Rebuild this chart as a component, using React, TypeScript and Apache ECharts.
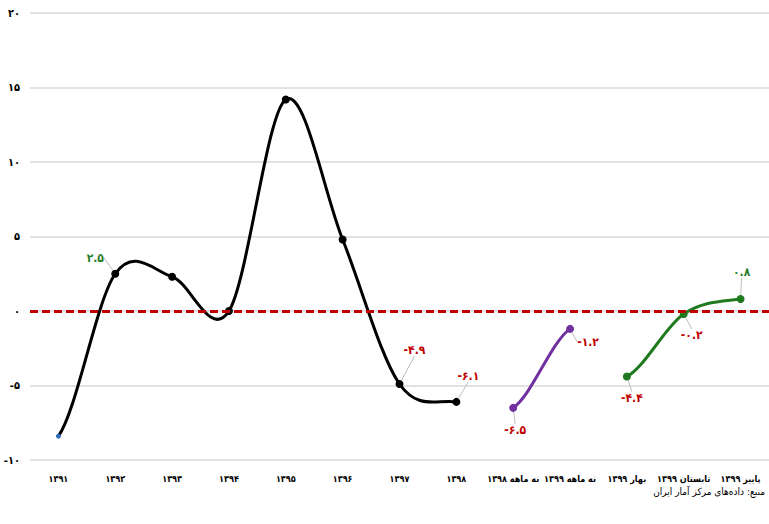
import React, { useEffect, useRef } from 'react';
import * as echarts from 'echarts';

// Period labels along the horizontal axis
const categories = [
  '۱۳۹۱', '۱۳۹۲', '۱۳۹۳', '۱۳۹۴', '۱۳۹۵', '۱۳۹۶', '۱۳۹۷', '۱۳۹۸',
  'نه ماهه ۱۳۹۸', 'نه ماهه ۱۳۹۹', 'بهار ۱۳۹۹', 'تابستان ۱۳۹۹', 'پاییز ۱۳۹۹',
];

// Growth rates (percent)
const annualGrowth = [-8.4, 2.5, 2.3, 0, 14.2, 4.8, -4.9, -6.1];
const nineMonthGrowth = [-6.5, -1.2];
const seasonalGrowth = [-4.4, -0.2, 0.8];

const Y_MIN = -10;
const Y_MAX = 20;
const Y_STEP = 5;

const sourceNote = 'منبع: داده‌های مرکز آمار ایران';

// Offsets of value labels (by category index) from their points
const labelOffsets: Record<number, [number, number]> = {
  1: [-20, -16],
  6: [15, -34],
  7: [12, -26],
  8: [2, 22],
  9: [18, 13],
  10: [5, 21],
  11: [8, 21],
  12: [1, -27],
};

const FONT = "'DejaVu Sans Condensed', 'DejaVu Sans', sans-serif";
const POS_COLOR = '#2b7d2b';
const NEG_COLOR = '#c00000';

const toFa = (s: string) => s.replace(/\d/g, (d) => '۰۱۲۳۴۵۶۷۸۹'[+d]);

function markerData(values: number[], start: number, firstColor?: string) {
  const out: any[] = categories.map(() => null);
  values.forEach((v, i) => {
    const idx = start + i;
    const item: any = {
      value: v,
      label: {
        show: labelOffsets[idx] !== undefined,
        color: v >= 0 ? POS_COLOR : NEG_COLOR,
      },
    };
    if (i === 0 && firstColor) {
      item.itemStyle = { color: firstColor };
      item.symbolSize = 5;
    }
    out[idx] = item;
  });
  return out;
}

// Points with their markers and value labels (the curve itself is drawn separately)
function markerSeries(values: number[], start: number, color: string, firstColor?: string) {
  return {
    type: 'line',
    symbol: 'circle',
    symbolSize: 8,
    lineStyle: { width: 0, opacity: 0 },
    itemStyle: { color },
    z: 4,
    data: markerData(values, start, firstColor),
    label: {
      show: false,
      position: 'inside',
      fontFamily: FONT,
      fontWeight: 'bold',
      fontSize: 12,
      formatter: (p: any) => toFa(String(p.value)),
    },
    labelLine: { show: true, lineStyle: { color: '#bdbdbd', width: 1 } },
    labelLayout: (p: any) => {
      const off = labelOffsets[p.dataIndex];
      return off ? { dx: off[0], dy: off[1] } : {};
    },
  };
}

// Smooth curve through the points: cubic Bezier segments with 1/6 tangents,
// flattened end tangents
function curveSeries(values: number[], start: number, color: string) {
  const pts = values.map((v, i) => [start + i, v]);
  return {
    type: 'custom',
    z: 3,
    silent: true,
    encode: { x: 0, y: 1 },
    data: pts,
    renderItem: (params: any, api: any) => {
      const i = params.dataIndex;
      if (i >= pts.length - 1) return null;
      const P = pts.map((p) => api.coord(p));
      const n = P.length;
      const get = (k: number) => {
        if (k < 0) {
          const dx = P[1][0] - P[0][0];
          return [P[0][0] - dx, P[0][1]];
        }
        if (k > n - 1) {
          const dx = P[n - 1][0] - P[n - 2][0];
          return [P[n - 1][0] + dx, P[n - 1][1]];
        }
        return P[k];
      };
      const p0 = get(i - 1);
      const p1 = get(i);
      const p2 = get(i + 1);
      const p3 = get(i + 2);
      return {
        type: 'bezierCurve',
        shape: {
          x1: p1[0],
          y1: p1[1],
          cpx1: p1[0] + (p2[0] - p0[0]) / 6,
          cpy1: p1[1] + (p2[1] - p0[1]) / 6,
          cpx2: p2[0] - (p3[0] - p1[0]) / 6,
          cpy2: p2[1] - (p3[1] - p1[1]) / 6,
          x2: p2[0],
          y2: p2[1],
        },
        style: { stroke: color, lineWidth: 3, fill: null, lineCap: 'round' },
      };
    },
  };
}

export default function App() {
  const ref = useRef<HTMLDivElement>(null);

  useEffect(() => {
    if (!ref.current) return;
    const chart = echarts.init(ref.current, null, { renderer: 'svg' });
    chart.setOption({
      animation: false,
      backgroundColor: '#ffffff',
      grid: { left: 30, right: -2, top: 13, bottom: 64 },
      xAxis: {
        type: 'category',
        data: categories,
        boundaryGap: true,
        axisLine: { show: false },
        axisTick: { show: false },
        axisLabel: {
          interval: 0,
          color: '#000',
          fontFamily: FONT,
          fontWeight: 'bold',
          fontSize: 9,
          margin: 14,
        },
      },
      yAxis: {
        type: 'value',
        min: Y_MIN,
        max: Y_MAX,
        interval: Y_STEP,
        axisLine: { show: false },
        axisTick: { show: false },
        splitLine: { lineStyle: { color: '#d9d9d9', width: 1.5 } },
        axisLabel: {
          color: '#000',
          fontFamily: FONT,
          fontWeight: 'bold',
          fontSize: 11,
          margin: 10,
          formatter: (v: number) => toFa(String(v)),
        },
      },
      series: [
        {
          // zero reference line
          type: 'line',
          data: [],
          z: 2,
          markLine: {
            silent: true,
            symbol: 'none',
            label: { show: false },
            lineStyle: { color: '#c00000', type: [8, 4], width: 3 },
            data: [{ yAxis: 0 }],
          },
        },
        curveSeries(annualGrowth, 0, '#000000'),
        curveSeries(nineMonthGrowth, 8, '#7030a0'),
        curveSeries(seasonalGrowth, 10, '#1f7a1f'),
        markerSeries(annualGrowth, 0, '#000000', '#2f6eba'),
        markerSeries(nineMonthGrowth, 8, '#7030a0'),
        markerSeries(seasonalGrowth, 10, '#1f7a1f'),
      ],
      graphic: [
        {
          type: 'text',
          right: 4,
          top: 486,
          style: {
            text: sourceNote,
            font: `10px ${FONT}`,
            fill: '#000',
          },
        },
      ],
    });
    return () => chart.dispose();
  }, []);

  return (
    <div
      ref={ref}
      style={{ position: 'fixed', left: 0, top: 0, width: 769, height: 524 }}
    />
  );
}
